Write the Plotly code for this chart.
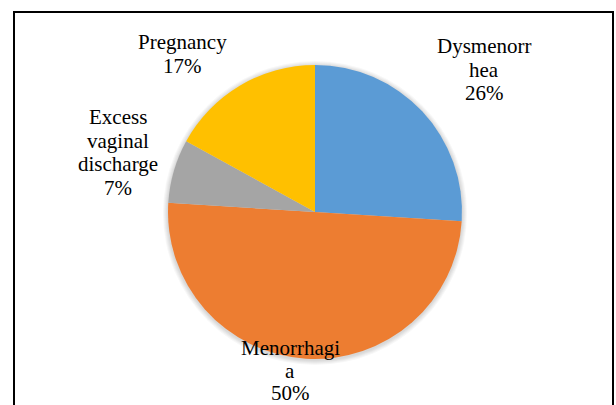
import plotly.graph_objects as go

# ── Data ──────────────────────────────────────────────────────────────────────
categories = ["Dysmenorrhea", "Menorrhagia", "Excess vaginal discharge", "Pregnancy"]
shares = [26, 50, 7, 17]
colors = ["#5B9BD5", "#ED7D31", "#A5A5A5", "#FFC000"]

# Word-wrapped label lines as they appear in the chart
label_lines = [
    ["Dysmenorr", "hea"],
    ["Menorrhagi", "a"],
    ["Excess", "vaginal", "discharge"],
    ["Pregnancy"],
]

W, H = 616, 405
CX, CY, R = 315, 212, 147

fig = go.Figure(go.Pie(
    labels=categories,
    values=shares,
    sort=False,
    direction="clockwise",
    rotation=0,
    marker=dict(colors=colors, line=dict(width=0)),
    textinfo="none",
    hoverinfo="label+percent",
    domain=dict(x=[(CX - R) / W, (CX + R) / W],
                y=[(H - CY - R) / H, (H - CY + R) / H]),
    showlegend=False,
))

# Soft glow/shadow around the pie
for k in range(1, 6):
    r = R + k
    fig.add_shape(type="circle", xref="paper", yref="paper", layer="below",
                  x0=(CX - r) / W, x1=(CX + r) / W,
                  y0=(H - CY - r - 1) / H, y1=(H - CY + r - 1) / H,
                  line=dict(width=0), fillcolor="rgba(0,0,0,0.03)")

# Label block anchors (centre x, first-line y in px from top, line step)
label_pos = [(484, 46, 23.5), (290, 348, 22.5), (118, 117, 23.5), (182, 42, 23.5)]

for lines, pct, (x, y0, step) in zip(label_lines, shares, label_pos):
    for i, txt in enumerate(lines + [f"{pct}%"]):
        fig.add_annotation(
            x=x / W, y=1 - (y0 + i * step) / H, xref="paper", yref="paper",
            text=txt, showarrow=False, xanchor="center", yanchor="middle",
            font=dict(family="Liberation Serif", size=21, color="#000000"),
        )

# Chart frame
fig.add_shape(type="rect", xref="paper", yref="paper",
              x0=14 / W, x1=613 / W, y0=-0.05, y1=1 - 12 / H,
              line=dict(color="#000000", width=2), fillcolor="rgba(0,0,0,0)")

fig.update_layout(
    width=W, height=H,
    margin=dict(l=0, r=0, t=0, b=0),
    paper_bgcolor="#FFFFFF",
    plot_bgcolor="#FFFFFF",
)

fig.write_html(
    "out.html",
    config=dict(displayModeBar=False),
    post_script="document.body.style.margin='0';document.body.style.overflow='hidden';",
)
